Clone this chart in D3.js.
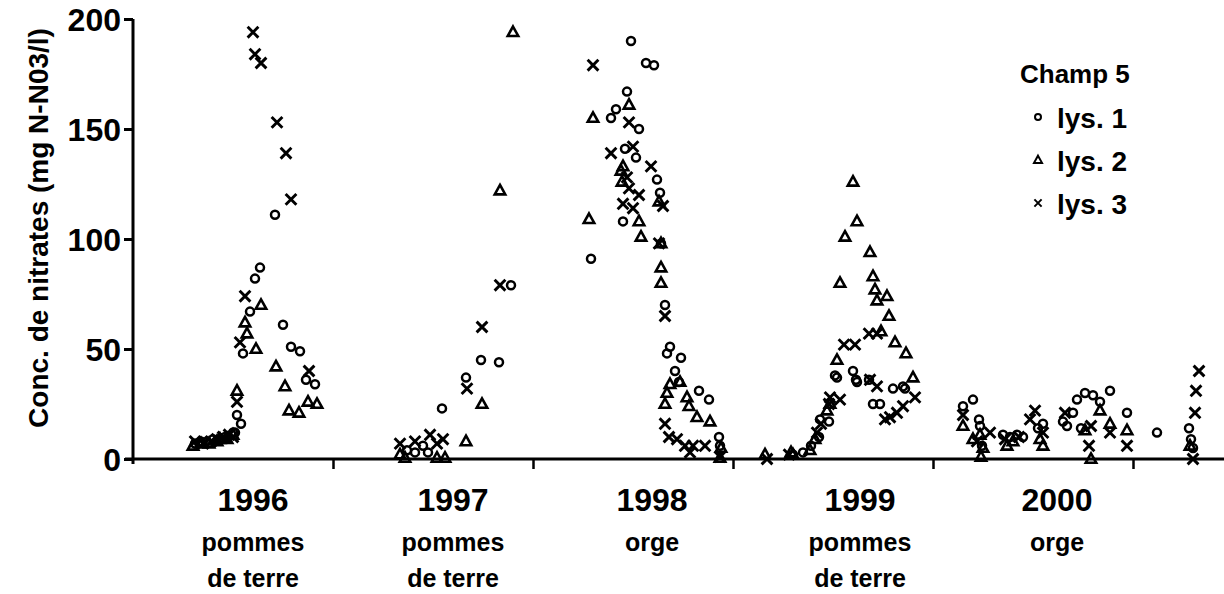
<!DOCTYPE html>
<html>
<head>
<meta charset="utf-8">
<title>Champ 5 nitrates</title>
<script src="https://d3js.org/d3.v7.min.js"></script>
<style>
  body { margin: 0; background: #fff; }
  text { font-family: "Liberation Sans", Arial, sans-serif; font-weight: bold; fill: #000; }
</style>
</head>
<body>
<script>
// x = years since start of 1996 (one tick per year), y = mg N-NO3/l
var lys1 = [
  [0.31,7],[0.34,8],[0.37,8],[0.40,9],[0.43,9],[0.46,10],[0.50,12],[0.51,12],
  [0.52,20],[0.54,16],[0.55,48],[0.585,67],[0.61,82],[0.635,87],[0.71,111],[0.75,61],
  [0.79,51],[0.835,49],[0.865,36],[0.91,34],
  [1.37,4],[1.41,3],[1.45,6],[1.475,3],[1.545,23],[1.665,37],[1.74,45],[1.83,44],[1.89,79],
  [2.29,91],[2.415,159],[2.39,155],[2.46,141],[2.47,167],[2.49,190],[2.515,137],[2.53,150],
  [2.565,180],[2.605,179],[2.62,127],[2.635,121],[2.45,108],[2.64,98],[2.66,70],[2.685,51],
  [2.67,48],[2.74,46],[2.71,40],[2.73,35],[2.83,31],[2.88,27],[2.93,10],[2.935,6],
  [3.30,2],[3.35,3],[3.39,6],[3.43,10],[3.435,18],[3.48,17],[3.51,38],[3.52,37],[3.60,40],
  [3.615,36],[3.62,35],[3.68,36],[3.70,25],[3.735,25],[3.80,32],[3.85,33],[3.86,32],
  [4.15,24],[4.20,27],[4.23,18],[4.235,15],[4.245,6],[4.35,11],[4.385,10],[4.42,11],[4.45,10],
  [4.525,14],[4.55,16],[4.65,17],[4.67,15],[4.70,21],[4.72,27],[4.74,14],[4.76,30],[4.80,29],
  [4.835,26],[4.885,31],[4.97,21],[5.12,12],[5.28,14],[5.29,9],[5.30,5]
];
var lys2 = [
  [0.30,6],[0.34,7],[0.38,7],[0.42,8],[0.435,9],[0.47,9],[0.50,11],
  [0.52,31],[0.56,62],[0.57,57],[0.615,50],[0.64,70],[0.715,42],[0.76,33],[0.78,22],
  [0.83,21],[0.875,26],[0.92,25],
  [1.335,2],[1.36,0.5],[1.52,0.5],[1.56,0.5],[1.665,8],[1.745,25],[1.835,122],[1.90,194],
  [2.28,109],[2.30,155],[2.48,161],[2.45,133],[2.44,131],[2.445,126],[2.63,117],[2.53,108],
  [2.54,101],[2.64,98],[2.64,87],[2.64,80],[2.685,34],[2.67,30],[2.66,25],[2.77,28],
  [2.78,24],[2.82,19],[2.885,17],[2.735,35],[2.94,5],[2.935,0.5],
  [3.16,2],[3.29,3],[3.30,2],[3.385,4],[3.41,9],[3.47,22],[3.485,25],[3.52,45],[3.535,80],
  [3.56,101],[3.62,108],[3.60,126],[3.685,94],[3.70,83],[3.71,77],[3.72,72],[3.77,74],
  [3.78,65],[3.74,58],[3.81,53],[3.865,48],[3.90,37],
  [4.15,15],[4.20,9],[4.235,11],[4.24,1],[4.25,5],[4.37,6],[4.40,8],[4.535,9],[4.55,6],
  [4.76,13],[4.79,0],[4.835,22],[4.885,16],[4.97,13],[5.285,6]
];
var lys3 = [
  [0.31,8],[0.35,7],[0.39,8],[0.42,9],[0.45,10],[0.48,11],[0.50,10],
  [0.52,26],[0.535,53],[0.56,74],[0.60,194],[0.61,184],[0.64,180],[0.72,153],[0.765,139],
  [0.79,118],[0.88,40],
  [1.335,7],[1.41,8],[1.485,11],[1.52,7],[1.55,9],[1.67,32],[1.745,60],[1.835,79],
  [2.30,179],[2.48,153],[2.39,139],[2.50,142],[2.59,133],[2.47,128],[2.48,123],[2.53,120],
  [2.65,115],[2.45,116],[2.50,114],[2.63,98],[2.66,65],[2.66,16],[2.68,10],[2.72,9],
  [2.76,6],[2.80,6],[2.86,6],[2.785,3],[2.935,1],
  [3.17,0],[3.28,2],[3.42,12],[3.44,16],[3.48,25],[3.485,28],[3.535,27],[3.555,52],[3.61,52],
  [3.68,57],[3.72,57],[3.685,36],[3.72,33],[3.76,18],[3.785,19],[3.82,21],[3.85,24],[3.91,28],
  [4.15,20],[4.285,12],[4.22,8],[4.36,9],[4.43,10],[4.485,18],[4.51,22],[4.55,12],[4.66,21],
  [4.79,15],[4.78,6],[4.885,12],[4.97,6],[5.31,21],[5.315,31],[5.33,40],[5.30,0]
];

var yTicks = [0, 50, 100, 150, 200];
var yearTicks = [1, 2, 3, 4, 5];
var seasonPos = [0.6, 1.6, 2.595, 3.635, 4.62];
var seasonYear = ["1996", "1997", "1998", "1999", "2000"];
var seasonCrop = [["pommes", "de terre"], ["pommes", "de terre"], ["orge"], ["pommes", "de terre"], ["orge"]];
var legendNames = ["lys. 1", "lys. 2", "lys. 3"];

var W = 1224, H = 594;
var svg = d3.select("body").append("svg").attr("width", W).attr("height", H);

var x = d3.scaleLinear().domain([0, 5.455]).range([133, 1224]);
var y = d3.scaleLinear().domain([0, 200]).range([459, 19]);

// marker shapes
function circ(r) { return "M" + r + ",0A" + r + "," + r + " 0 1,1 " + (-r) + ",0A" + r + "," + r + " 0 1,1 " + r + ",0Z"; }
function tri(s) { var h = s * 0.9; return "M0," + (-h * 0.6) + "L" + (s / 2) + "," + (h * 0.4) + "L" + (-s / 2) + "," + (h * 0.4) + "Z"; }
function cross(s) { return "M" + (-s) + "," + (-s) + "L" + s + "," + s + "M" + s + "," + (-s) + "L" + (-s) + "," + s; }

var series = [
  { data: lys1, d: circ(4), w: 2.5 },
  { data: lys2, d: tri(10.5), w: 2.6 },
  { data: lys3, d: cross(5.4), w: 2.9 }
];

// axes
var yAxis = svg.append("g").attr("transform", "translate(133,0)")
  .call(d3.axisLeft(y).tickValues(yTicks).tickSize(9).tickSizeOuter(0).tickPadding(3));
yAxis.select(".domain").attr("stroke-width", 3).attr("d", "M0," + y(200) + "V" + (y(0) + 5));
yAxis.selectAll(".tick line").attr("stroke-width", 3);
yAxis.selectAll(".tick text").style("font-size", "32px").attr("dy", "0.36em");

var xAxis = svg.append("g").attr("transform", "translate(0,459)")
  .call(d3.axisBottom(x).tickValues(yearTicks).tickSize(10).tickSizeOuter(0).tickFormat(""));
xAxis.select(".domain").attr("stroke-width", 3).attr("d", "M125,0H1224");
xAxis.selectAll(".tick line").attr("stroke-width", 2.5);

// season labels
var lab = svg.append("g").selectAll("g").data(seasonPos).join("g")
  .attr("transform", function(d) { return "translate(" + x(d) + ",0)"; });
lab.append("text").attr("y", 511).attr("text-anchor", "middle").style("font-size", "32px")
  .text(function(d, i) { return seasonYear[i]; });
lab.each(function(d, i) {
  d3.select(this).selectAll("text.crop").data(seasonCrop[i]).join("text").attr("class", "crop")
    .attr("y", function(c, j) { return 551 + j * 36; }).attr("text-anchor", "middle")
    .style("font-size", "25px").text(function(c) { return c; });
});

// y title
svg.append("text").attr("transform", "translate(48,228) rotate(-90)").attr("text-anchor", "middle")
  .style("font-size", "28px").text("Conc. de nitrates (mg N-N03/l)");

// points
series.forEach(function(s) {
  svg.append("g").selectAll("path").data(s.data).join("path")
    .attr("transform", function(d) { return "translate(" + x(d[0]) + "," + y(d[1]) + ")"; })
    .attr("d", s.d).attr("fill", "none").attr("stroke", "#000").attr("stroke-width", s.w);
});

// legend
var lg = svg.append("g").attr("transform", "translate(1020,0)");
lg.append("text").attr("x", 0).attr("y", 83).style("font-size", "26px").text("Champ 5");
var legendShapes = [circ(3), tri(8), cross(3.6)];
legendNames.forEach(function(n, i) {
  var yy = 118 + i * 43;
  lg.append("path").attr("transform", "translate(18," + (yy - 1) + ")").attr("d", legendShapes[i])
    .attr("fill", "none").attr("stroke", "#000").attr("stroke-width", 2);
  lg.append("text").attr("x", 37).attr("y", yy + 10).style("font-size", "28px").text(n);
});
</script>
</body>
</html>
